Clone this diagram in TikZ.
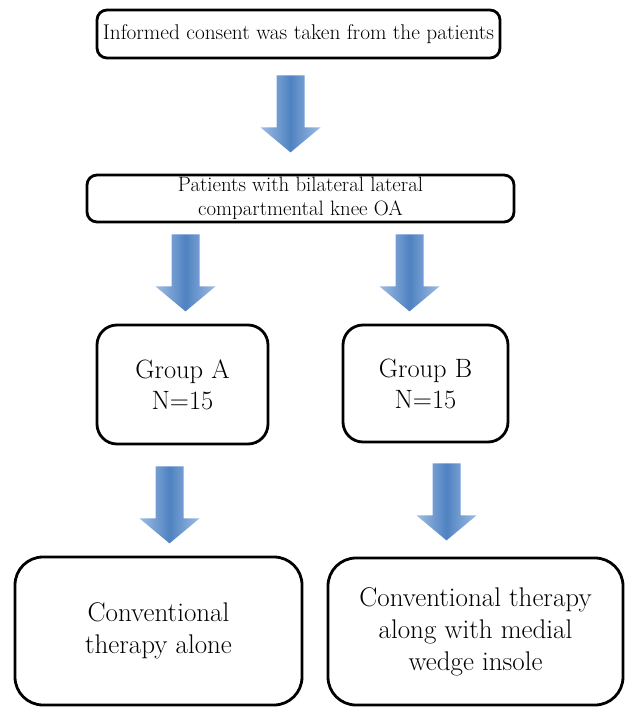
\documentclass[tikz,border=0pt]{standalone}
\usepackage{tikz}
\usetikzlibrary{calc}
\definecolor{arrowdk}{rgb}{0.31, 0.51, 0.76}
\definecolor{arrowlt}{rgb}{0.62, 0.74, 0.89}
\tikzstyle{boxstyle}=[draw=black,line width=2.8pt,fill=white,align=center,inner sep=0pt]
\tikzstyle{topbox}=[boxstyle,rounded corners=10pt]
\tikzstyle{groupbox}=[boxstyle,rounded corners=20pt,font=\fontsize{26.5}{31}\selectfont]
\tikzstyle{therapybox}=[boxstyle,rounded corners=28pt,font=\fontsize{27}{32}\selectfont]
\tikzstyle{blockarrow}=[draw=none,left color=arrowlt,right color=arrowlt,middle color=arrowdk]
\newcommand{\downblock}[1]{%
  \path[blockarrow] (#1) ++(-14,0) -- ++(28,0) -- ++(0,52) -- ++(16,0)
    -- ++(-30,25) -- ++(-30,-25) -- ++(16,0) -- cycle;}

\begin{document}
\begin{tikzpicture}[x=1pt,y=-1pt]

  \useasboundingbox (0,0) rectangle (627,707);

  % BOXES
  \node[topbox,minimum width=403,minimum height=48,font=\fontsize{21.3}{24}\selectfont]
    (consent) at (298.5,34) {Informed consent was taken from the patients};
  \node[topbox,minimum width=427,minimum height=47,font=\fontsize{20.8}{24}\selectfont]
    (patients) at (300.5,198.5) {Patients with bilateral lateral\\compartmental knee OA};
  \node[groupbox,minimum width=171,minimum height=119] (grpA) at (182.5,384.5)
    {Group A\\N=15};
  \node[groupbox,minimum width=165,minimum height=117] (grpB) at (425.5,383.5)
    {Group B\\N=15};
  \node[therapybox,minimum width=287,minimum height=148] (convA) at (158.5,631)
    {Conventional\\therapy alone};
  \node[therapybox,minimum width=295,minimum height=147] (convB) at (475.5,631.5)
    {Conventional therapy\\along with medial\\wedge insole};

  % ARROWS
  \coordinate (arr1) at ($(consent.south)+(-8,16)$);
  \coordinate (arr2a) at ($(patients.south)+(-115,11)$);
  \coordinate (arr2b) at ($(patients.south)+(109,11)$);
  \coordinate (arr3a) at ($(grpA.south)+(-13,21)$);
  \coordinate (arr3b) at ($(grpB.south)+(21,20)$);
  \downblock{arr1}
  \downblock{arr2a}
  \downblock{arr2b}
  \downblock{arr3a}
  \downblock{arr3b}

\end{tikzpicture}
\end{document}
